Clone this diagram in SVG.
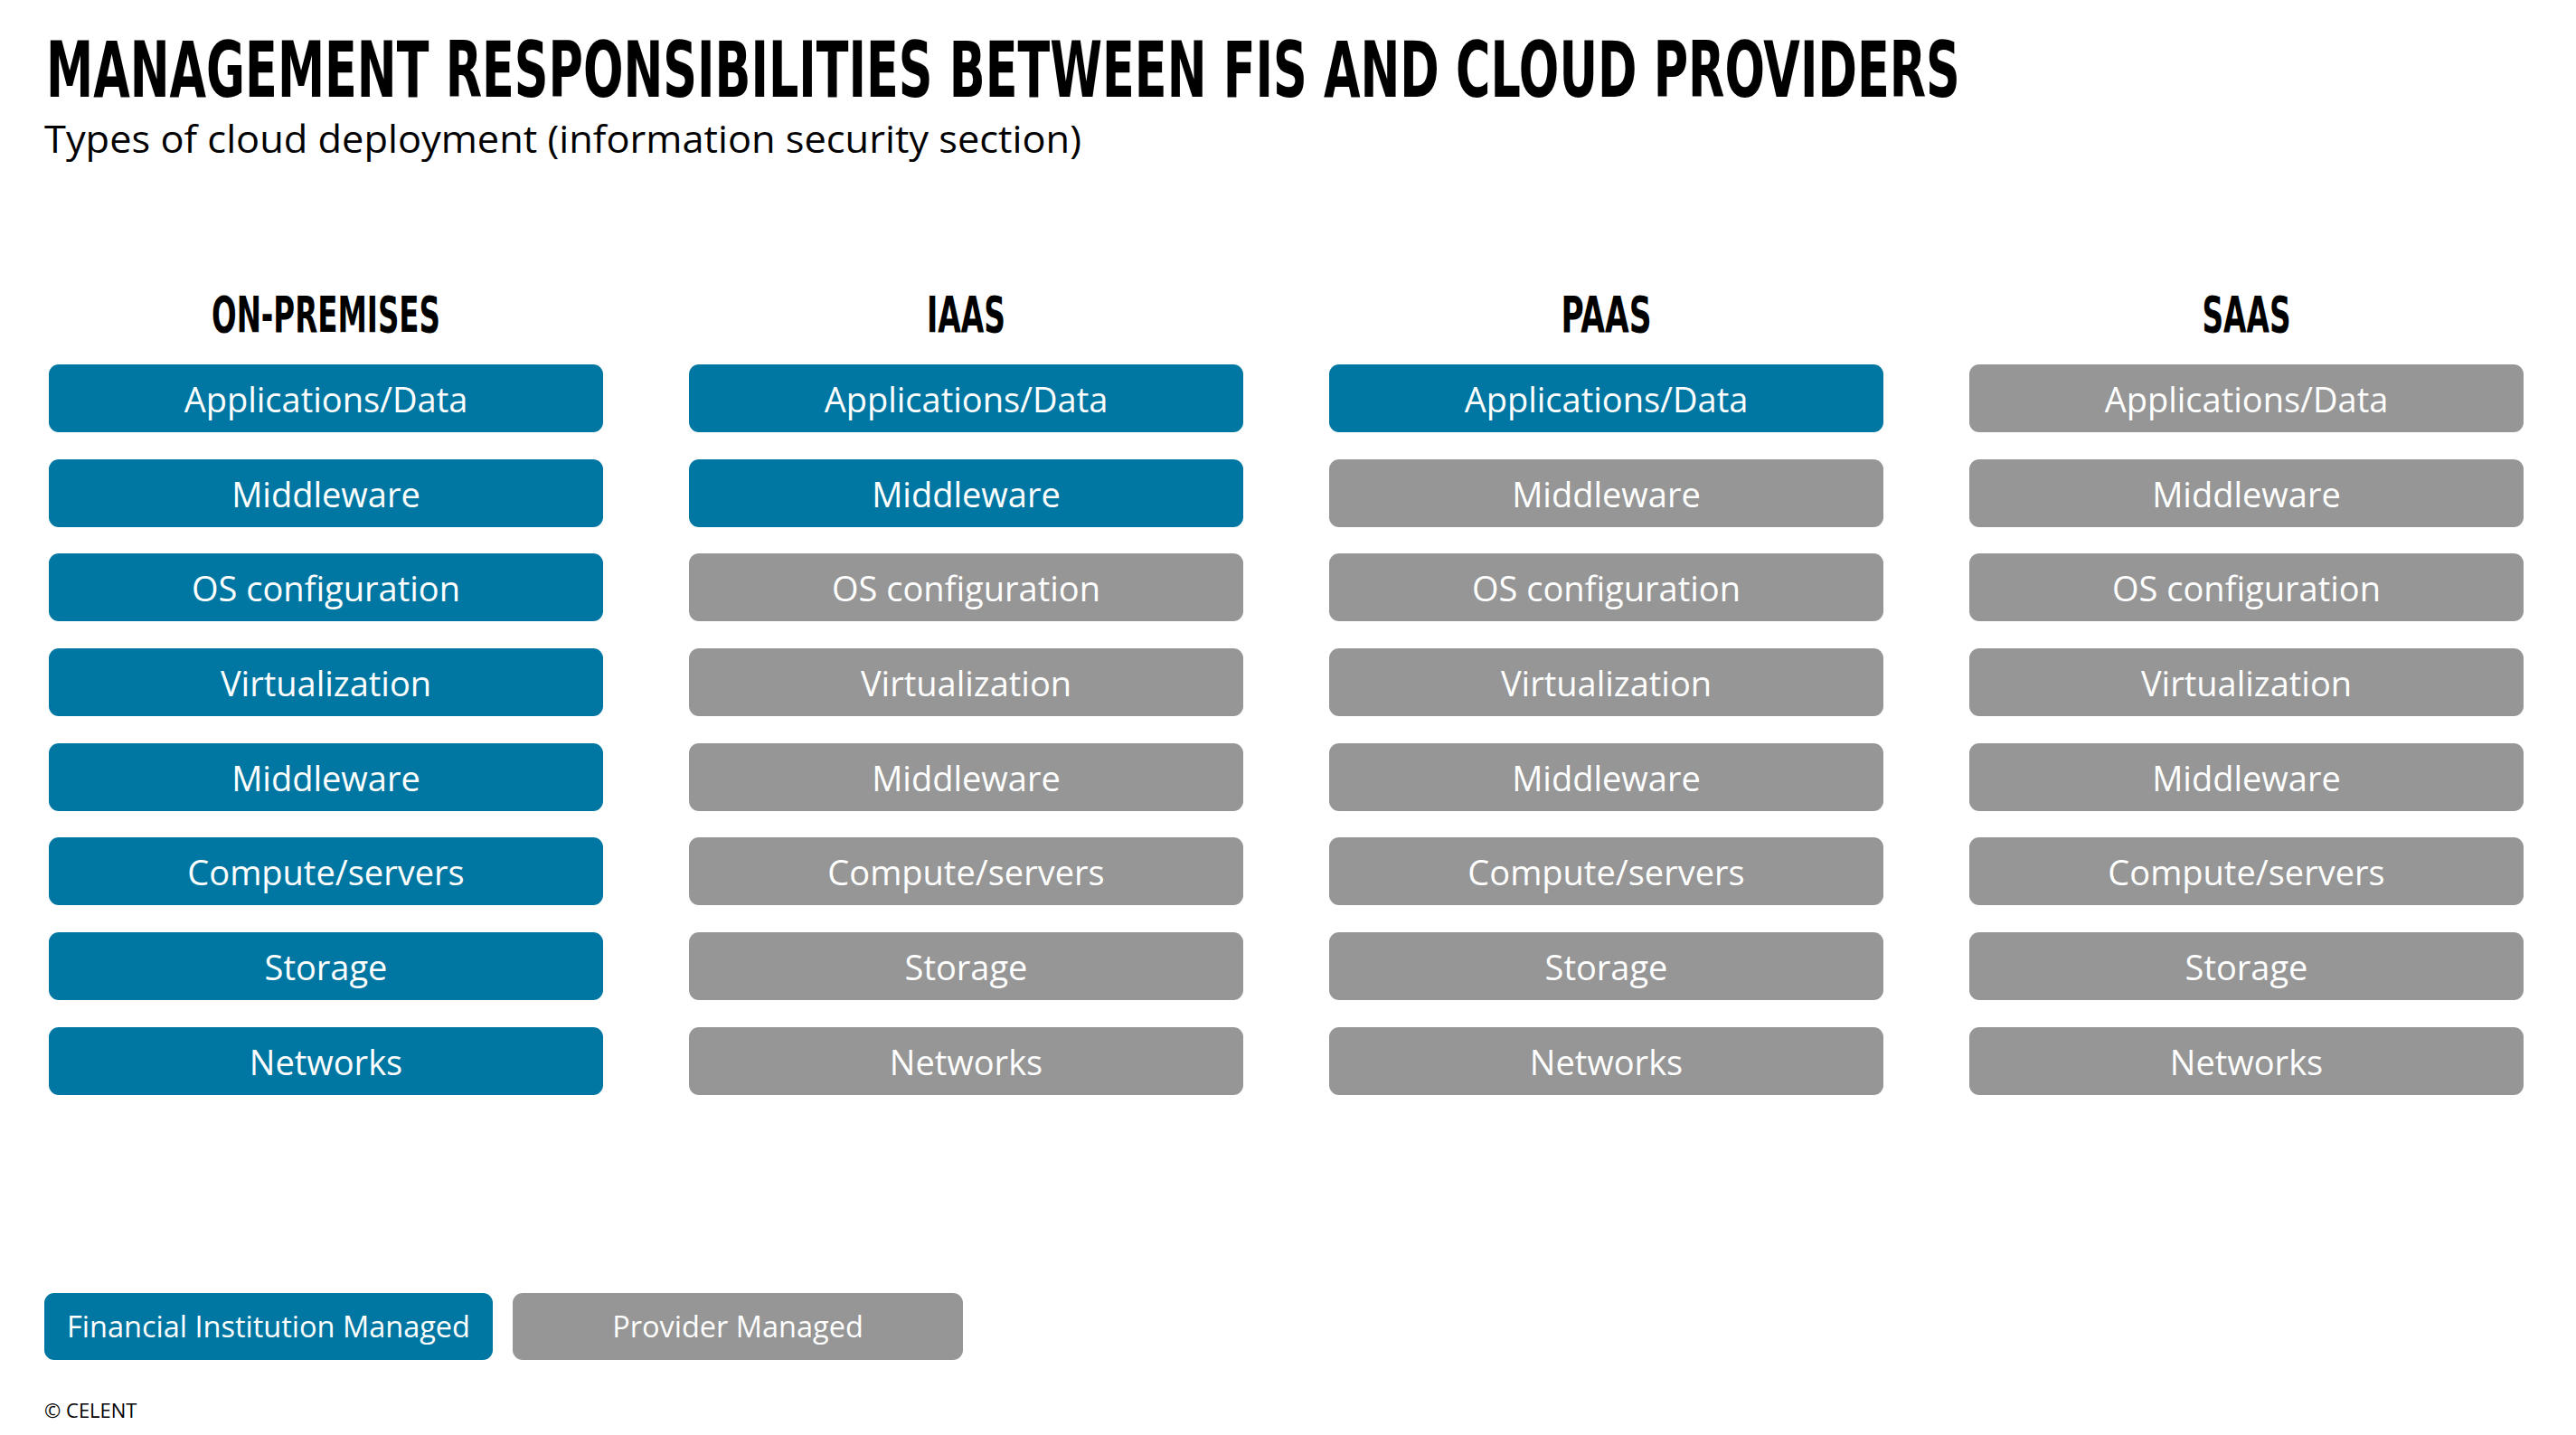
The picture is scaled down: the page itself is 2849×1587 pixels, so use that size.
<svg xmlns="http://www.w3.org/2000/svg" width="2849" height="1587" viewBox="0 0 2849 1587">
<style>
.bg{fill:#ffffff}
.fi{fill:#0077A2}
.pm{fill:#969696}
.lbl{font-family:"Open Sans","Noto Sans","DejaVu Sans",sans-serif;font-size:38px;fill:#ffffff;text-anchor:middle}
.leg{font-family:"Open Sans","Noto Sans","DejaVu Sans",sans-serif;font-size:32.5px;fill:#ffffff;text-anchor:middle}
.hd{font-family:"DejaVu Sans Condensed","DejaVu Sans",sans-serif;font-weight:bold;font-size:55px;fill:#000000;text-anchor:middle}
.title{font-family:"DejaVu Sans Condensed","DejaVu Sans",sans-serif;font-weight:bold;font-size:86px;fill:#000000}
.sub{font-family:"Open Sans","Noto Sans","DejaVu Sans",sans-serif;font-size:42px;fill:#000000}
.copy{font-family:"Open Sans","Noto Sans","DejaVu Sans",sans-serif;font-size:22px;fill:#000000}
</style>
<rect class="bg" x="0" y="0" width="2849" height="1587"/>
<g id="title">
<text class="title" transform="scale(0.7,1)" x="72.86" y="107" textLength="3024" lengthAdjust="spacingAndGlyphs">MANAGEMENT RESPONSIBILITIES BETWEEN FIS AND CLOUD PROVIDERS</text>
<text class="sub" x="49" y="169" textLength="1147" lengthAdjust="spacingAndGlyphs">Types of cloud deployment (information security section)</text>
</g>
<g id="headers">
<text class="hd" x="360.5" y="367" textLength="253" lengthAdjust="spacingAndGlyphs">ON-PREMISES</text>
<text class="hd" x="1068.5" y="367" textLength="87" lengthAdjust="spacingAndGlyphs">IAAS</text>
<text class="hd" x="1776.5" y="367" textLength="100" lengthAdjust="spacingAndGlyphs">PAAS</text>
<text class="hd" x="2484.5" y="367" textLength="98" lengthAdjust="spacingAndGlyphs">SAAS</text>
</g>
<g id="col-onprem">
<g id="op-1"><rect class="fi" x="54" y="403" width="613" height="75" rx="11"/><text class="lbl" x="360.5" y="456">Applications/Data</text></g>
<g id="op-2"><rect class="fi" x="54" y="508" width="613" height="75" rx="11"/><text class="lbl" x="360.5" y="561">Middleware</text></g>
<g id="op-3"><rect class="fi" x="54" y="612" width="613" height="75" rx="11"/><text class="lbl" x="360.5" y="665">OS configuration</text></g>
<g id="op-4"><rect class="fi" x="54" y="717" width="613" height="75" rx="11"/><text class="lbl" x="360.5" y="770">Virtualization</text></g>
<g id="op-5"><rect class="fi" x="54" y="822" width="613" height="75" rx="11"/><text class="lbl" x="360.5" y="875">Middleware</text></g>
<g id="op-6"><rect class="fi" x="54" y="926" width="613" height="75" rx="11"/><text class="lbl" x="360.5" y="979">Compute/servers</text></g>
<g id="op-7"><rect class="fi" x="54" y="1031" width="613" height="75" rx="11"/><text class="lbl" x="360.5" y="1084">Storage</text></g>
<g id="op-8"><rect class="fi" x="54" y="1136" width="613" height="75" rx="11"/><text class="lbl" x="360.5" y="1189">Networks</text></g>
</g>
<g id="col-iaas">
<g id="ia-1"><rect class="fi" x="762" y="403" width="613" height="75" rx="11"/><text class="lbl" x="1068.5" y="456">Applications/Data</text></g>
<g id="ia-2"><rect class="fi" x="762" y="508" width="613" height="75" rx="11"/><text class="lbl" x="1068.5" y="561">Middleware</text></g>
<g id="ia-3"><rect class="pm" x="762" y="612" width="613" height="75" rx="11"/><text class="lbl" x="1068.5" y="665">OS configuration</text></g>
<g id="ia-4"><rect class="pm" x="762" y="717" width="613" height="75" rx="11"/><text class="lbl" x="1068.5" y="770">Virtualization</text></g>
<g id="ia-5"><rect class="pm" x="762" y="822" width="613" height="75" rx="11"/><text class="lbl" x="1068.5" y="875">Middleware</text></g>
<g id="ia-6"><rect class="pm" x="762" y="926" width="613" height="75" rx="11"/><text class="lbl" x="1068.5" y="979">Compute/servers</text></g>
<g id="ia-7"><rect class="pm" x="762" y="1031" width="613" height="75" rx="11"/><text class="lbl" x="1068.5" y="1084">Storage</text></g>
<g id="ia-8"><rect class="pm" x="762" y="1136" width="613" height="75" rx="11"/><text class="lbl" x="1068.5" y="1189">Networks</text></g>
</g>
<g id="col-paas">
<g id="pa-1"><rect class="fi" x="1470" y="403" width="613" height="75" rx="11"/><text class="lbl" x="1776.5" y="456">Applications/Data</text></g>
<g id="pa-2"><rect class="pm" x="1470" y="508" width="613" height="75" rx="11"/><text class="lbl" x="1776.5" y="561">Middleware</text></g>
<g id="pa-3"><rect class="pm" x="1470" y="612" width="613" height="75" rx="11"/><text class="lbl" x="1776.5" y="665">OS configuration</text></g>
<g id="pa-4"><rect class="pm" x="1470" y="717" width="613" height="75" rx="11"/><text class="lbl" x="1776.5" y="770">Virtualization</text></g>
<g id="pa-5"><rect class="pm" x="1470" y="822" width="613" height="75" rx="11"/><text class="lbl" x="1776.5" y="875">Middleware</text></g>
<g id="pa-6"><rect class="pm" x="1470" y="926" width="613" height="75" rx="11"/><text class="lbl" x="1776.5" y="979">Compute/servers</text></g>
<g id="pa-7"><rect class="pm" x="1470" y="1031" width="613" height="75" rx="11"/><text class="lbl" x="1776.5" y="1084">Storage</text></g>
<g id="pa-8"><rect class="pm" x="1470" y="1136" width="613" height="75" rx="11"/><text class="lbl" x="1776.5" y="1189">Networks</text></g>
</g>
<g id="col-saas">
<g id="sa-1"><rect class="pm" x="2178" y="403" width="613" height="75" rx="11"/><text class="lbl" x="2484.5" y="456">Applications/Data</text></g>
<g id="sa-2"><rect class="pm" x="2178" y="508" width="613" height="75" rx="11"/><text class="lbl" x="2484.5" y="561">Middleware</text></g>
<g id="sa-3"><rect class="pm" x="2178" y="612" width="613" height="75" rx="11"/><text class="lbl" x="2484.5" y="665">OS configuration</text></g>
<g id="sa-4"><rect class="pm" x="2178" y="717" width="613" height="75" rx="11"/><text class="lbl" x="2484.5" y="770">Virtualization</text></g>
<g id="sa-5"><rect class="pm" x="2178" y="822" width="613" height="75" rx="11"/><text class="lbl" x="2484.5" y="875">Middleware</text></g>
<g id="sa-6"><rect class="pm" x="2178" y="926" width="613" height="75" rx="11"/><text class="lbl" x="2484.5" y="979">Compute/servers</text></g>
<g id="sa-7"><rect class="pm" x="2178" y="1031" width="613" height="75" rx="11"/><text class="lbl" x="2484.5" y="1084">Storage</text></g>
<g id="sa-8"><rect class="pm" x="2178" y="1136" width="613" height="75" rx="11"/><text class="lbl" x="2484.5" y="1189">Networks</text></g>
</g>
<g id="legend">
<g id="legend-fi"><rect class="fi" x="49" y="1430" width="496" height="74" rx="11"/><text class="leg" x="297" y="1479">Financial Institution Managed</text></g>
<g id="legend-pm"><rect class="pm" x="567" y="1430" width="498" height="74" rx="11"/><text class="leg" x="816" y="1479">Provider Managed</text></g>
</g>
<g id="connectors"/>
<text class="copy" x="49" y="1568">© CELENT</text>
</svg>
